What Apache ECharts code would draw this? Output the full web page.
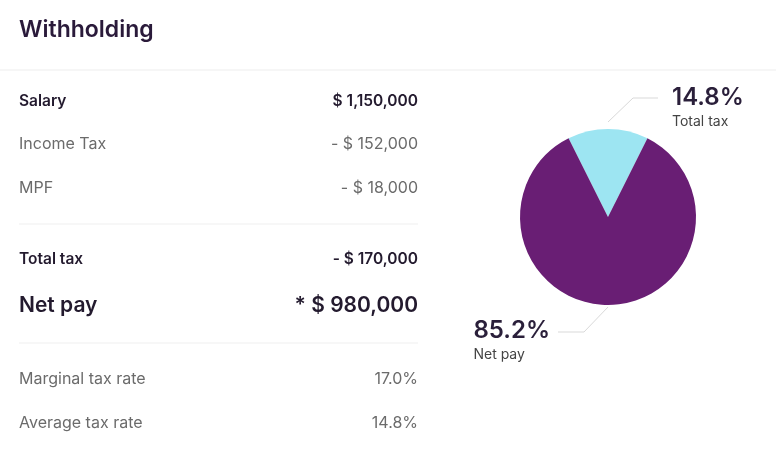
<!DOCTYPE html>
<html>
<head>
<meta charset="utf-8">
<script src="https://cdn.jsdelivr.net/npm/echarts@6/dist/echarts.min.js"></script>
<style>
html,body{margin:0;padding:0;background:#fff;}
#main{width:776px;height:452px;}
</style>
</head>
<body>
<div id="main"></div>
<script>
// ---- data ----
const title = 'Withholding';
const rowLabels = ['Salary', 'Income Tax', 'MPF', 'Total tax', 'Net pay', 'Marginal tax rate', 'Average tax rate'];
const rowValues = ['$ 1,150,000', '- $ 152,000', '- $ 18,000', '- $ 170,000', '* $ 980,000', '17.0%', '14.8%'];
const sliceNames = ['Total tax', 'Net pay'];
const sliceValues = [170000, 980000];

// ---- styles ----
const FONT = 'Inter, "Noto Sans", sans-serif';
const rowY = [101, 144, 188, 259, 306, 379, 423];
const rowStyle = [
  {w: 600, s: 15.5, c: '#231a2e'},
  {w: 400, s: 16, c: '#6b6b6b'},
  {w: 400, s: 16, c: '#6b6b6b'},
  {w: 600, s: 15.5, c: '#231a2e'},
  {w: 600, s: 21, c: '#231a2e'},
  {w: 400, s: 16, c: '#6b6b6b'},
  {w: 400, s: 16, c: '#6b6b6b'}
];
const dividerY = [224, 343];

const graphic = [];
graphic.push({type: 'text', style: {text: title, x: 19, y: 30, font: '600 23px ' + FONT, fill: '#2a1a3a', textAlign: 'left', textVerticalAlign: 'middle'}});
graphic.push({type: 'rect', shape: {x: 0, y: 69, width: 776, height: 2}, style: {fill: '#f6f6f6'}});
rowLabels.forEach((t, i) => {
  const st = rowStyle[i];
  graphic.push({type: 'text', style: {text: t, x: 19, y: rowY[i], font: st.w + ' ' + st.s + 'px ' + FONT, fill: st.c, textAlign: 'left', textVerticalAlign: 'middle'}});
  graphic.push({type: 'text', style: {text: rowValues[i], x: 418, y: rowY[i], font: st.w + ' ' + st.s + 'px ' + FONT, fill: st.c, textAlign: 'right', textVerticalAlign: 'middle'}});
});
dividerY.forEach(y => {
  graphic.push({type: 'line', shape: {x1: 19, y1: y, x2: 418, y2: y}, style: {stroke: '#efefef', lineWidth: 1}});
});

const half = sliceValues[0] / (sliceValues[0] + sliceValues[1]) * 180;

const chart = echarts.init(document.getElementById('main'), null, {renderer: 'canvas'});
chart.setOption({
  backgroundColor: '#ffffff',
  animation: false,
  graphic: graphic,
  series: [{
    type: 'pie',
    center: [608, 217],
    radius: [0, 88],
    startAngle: 90 + half,
    clockwise: true,
    percentPrecision: 1,
    data: sliceNames.map((n, i) => ({name: n, value: sliceValues[i]})),
    itemStyle: {color: p => ['#9de5f2', '#691e74'][p.dataIndex]},
    label: {
      show: true,
      position: 'outside',
      formatter: '{p|{d}%}\n{n|{b}}',
      rich: {
        p: {fontFamily: FONT, fontSize: 24, fontWeight: 600, color: '#2a1f3a', lineHeight: 28, align: 'left'},
        n: {fontFamily: FONT, fontSize: 14, color: '#444444', lineHeight: 20, align: 'left'}
      }
    },
    labelLine: {show: true, length: 10, length2: 10, lineStyle: {color: '#d9d9d9', width: 1}},
    labelLayout: function (params) {
      const pts = params.labelLinePoints;
      if (!pts) return {};
      const e = pts[0];
      if (params.dataIndex === 0) {
        const a = [e[0], e[1] - 7];
        const b = [a[0] + 25, a[1] - 24];
        const c = [b[0] + 25, b[1]];
        return {x: c[0] + 14, y: c[1] - 14, align: 'left', verticalAlign: 'top', labelLinePoints: [a, b, c]};
      } else {
        const a = [e[0], e[1] + 2];
        const b = [a[0] - 24, a[1] + 25];
        const c = [b[0] - 26, b[1]];
        return {x: c[0] - 8 - params.labelRect.width, y: c[1] - 15, align: 'left', verticalAlign: 'top', labelLinePoints: [a, b, c]};
      }
    }
  }]
});
</script>
</body>
</html>
